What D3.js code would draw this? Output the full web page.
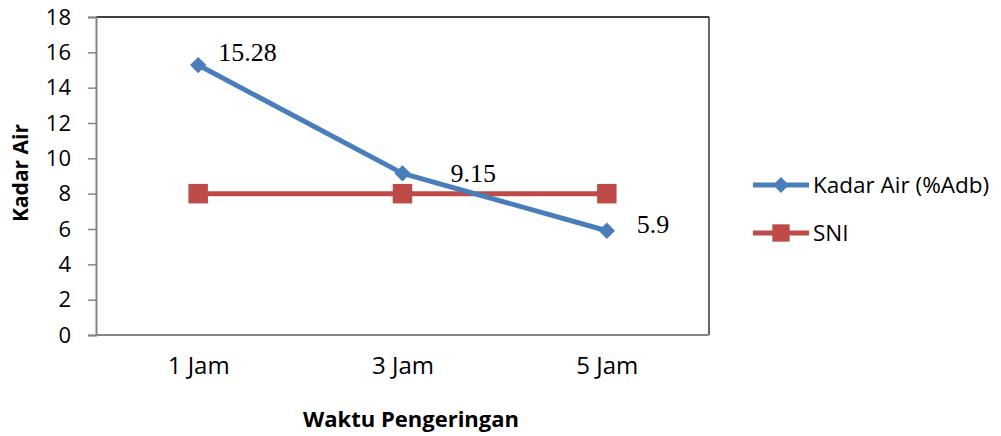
<!DOCTYPE html>
<html>
<head>
<meta charset="utf-8">
<script src="https://cdn.jsdelivr.net/npm/d3@7"></script>
<style>
  html, body { margin: 0; padding: 0; background: #fff; }
  svg { display: block; font-family: "Open Sans", "Noto Sans", sans-serif; }
  text { fill: #000; }
</style>
</head>
<body>
<svg id="chart" width="1001" height="436"></svg>
<script>
// Drying time categories and moisture content series
const categories = ["1 Jam", "3 Jam", "5 Jam"];
const kadarAir = [15.28, 9.15, 5.9];
const sni = [8, 8, 8];
const yTicks = [0, 2, 4, 6, 8, 10, 12, 14, 16, 18];
const seriesNames = ["Kadar Air (%Adb)", "SNI"];
const labelText = ["15.28", "9.15", "5.9"];

// Hand-placed data label offsets (px) relative to each point
const labelOffsets = [[20, -4], [48, 9], [30, 2]];

const m = { left: 96, right: 709, top: 17, bottom: 335 };

const svg = d3.select("#chart");

const x = d3.scalePoint()
  .domain(categories)
  .range([m.left, m.right])
  .padding(0.5);

const y = d3.scaleLinear()
  .domain([0, 18])
  .range([m.bottom, m.top]);

const blue = "#4a7ebb";
const red = "#be4b48";
const axisGray = "#868686";
const sansFont = "'Open Sans', 'Noto Sans', sans-serif";
const serifFont = "'Liberation Serif', 'Times New Roman', serif";

// Plot frame: top and right edges
svg.append("line")
  .attr("x1", m.left).attr("x2", m.right)
  .attr("y1", m.top).attr("y2", m.top)
  .attr("stroke", "#000").attr("stroke-width", 1.5);
svg.append("line")
  .attr("x1", m.right).attr("x2", m.right)
  .attr("y1", m.top).attr("y2", m.bottom)
  .attr("stroke", "#000").attr("stroke-width", 1.2);

// Y axis
const yAxis = svg.append("g")
  .attr("transform", `translate(${m.left},0)`)
  .call(d3.axisLeft(y).tickValues(yTicks).tickSize(8).tickPadding(17).tickFormat(d3.format("d")));
yAxis.select(".domain").attr("stroke", axisGray).attr("stroke-width", 2);
yAxis.selectAll(".tick line").attr("stroke", axisGray).attr("stroke-width", 1.5);
yAxis.selectAll(".tick text")
  .style("font-family", sansFont)
  .style("font-size", "22px")
  .attr("fill", "#000");

// X axis (no tick marks)
const xAxis = svg.append("g")
  .attr("transform", `translate(0,${m.bottom})`)
  .call(d3.axisBottom(x).tickSize(0).tickPadding(22));
xAxis.select(".domain").attr("stroke", axisGray).attr("stroke-width", 2)
  .attr("d", `M${m.left},0H${m.right}`);
xAxis.selectAll(".tick text")
  .style("font-family", sansFont)
  .style("font-size", "24px")
  .attr("fill", "#000");

// Lines
const line = d3.line()
  .x((d, i) => x(categories[i]))
  .y(d => y(d));

svg.append("path")
  .datum(sni)
  .attr("d", line)
  .attr("fill", "none")
  .attr("stroke", red)
  .attr("stroke-width", 5);

svg.append("path")
  .datum(kadarAir)
  .attr("d", line)
  .attr("fill", "none")
  .attr("stroke", blue)
  .attr("stroke-width", 5)
  .attr("stroke-linejoin", "round");

// Markers
const diamond = d3.symbol().type(d3.symbolDiamond2).size(170);
const square = d3.symbol().type(d3.symbolSquare).size(380);

svg.append("g").selectAll("path")
  .data(sni)
  .join("path")
  .attr("d", square)
  .attr("transform", (d, i) => `translate(${x(categories[i])},${y(d)})`)
  .attr("fill", red);

svg.append("g").selectAll("path")
  .data(kadarAir)
  .join("path")
  .attr("d", diamond)
  .attr("transform", (d, i) => `translate(${x(categories[i])},${y(d)})`)
  .attr("fill", blue);

// Data labels
svg.append("g").selectAll("text")
  .data(kadarAir)
  .join("text")
  .attr("x", (d, i) => x(categories[i]) + labelOffsets[i][0])
  .attr("y", (d, i) => y(d) + labelOffsets[i][1])
  .style("font-family", serifFont)
  .style("font-size", "26px")
  .text((d, i) => labelText[i]);

// Axis titles
svg.append("text")
  .attr("transform", `translate(28,173) rotate(-90)`)
  .attr("text-anchor", "middle")
  .style("font-family", sansFont)
  .style("font-size", "21px")
  .style("font-weight", "bold")
  .text("Kadar Air");

svg.append("text")
  .attr("x", 411)
  .attr("y", 427)
  .attr("text-anchor", "middle")
  .style("font-family", sansFont)
  .style("font-size", "22px")
  .style("font-weight", "bold")
  .text("Waktu Pengeringan");

// Legend
const legend = svg.append("g");
const legendItems = [
  { name: seriesNames[0], color: blue, sym: d3.symbol().type(d3.symbolDiamond2).size(160) },
  { name: seriesNames[1], color: red, sym: d3.symbol().type(d3.symbolSquare).size(300) }
];
legendItems.forEach((it, i) => {
  const ly = 185 + i * 48;
  legend.append("line")
    .attr("x1", 753).attr("x2", 809)
    .attr("y1", ly).attr("y2", ly)
    .attr("stroke", it.color).attr("stroke-width", 5);
  legend.append("path")
    .attr("d", it.sym)
    .attr("transform", `translate(781,${ly})`)
    .attr("fill", it.color);
  legend.append("text")
    .attr("x", 813)
    .attr("y", ly + 8)
    .style("font-family", sansFont)
    .style("font-size", "22.5px")
    .text(it.name);
});
</script>
</body>
</html>
